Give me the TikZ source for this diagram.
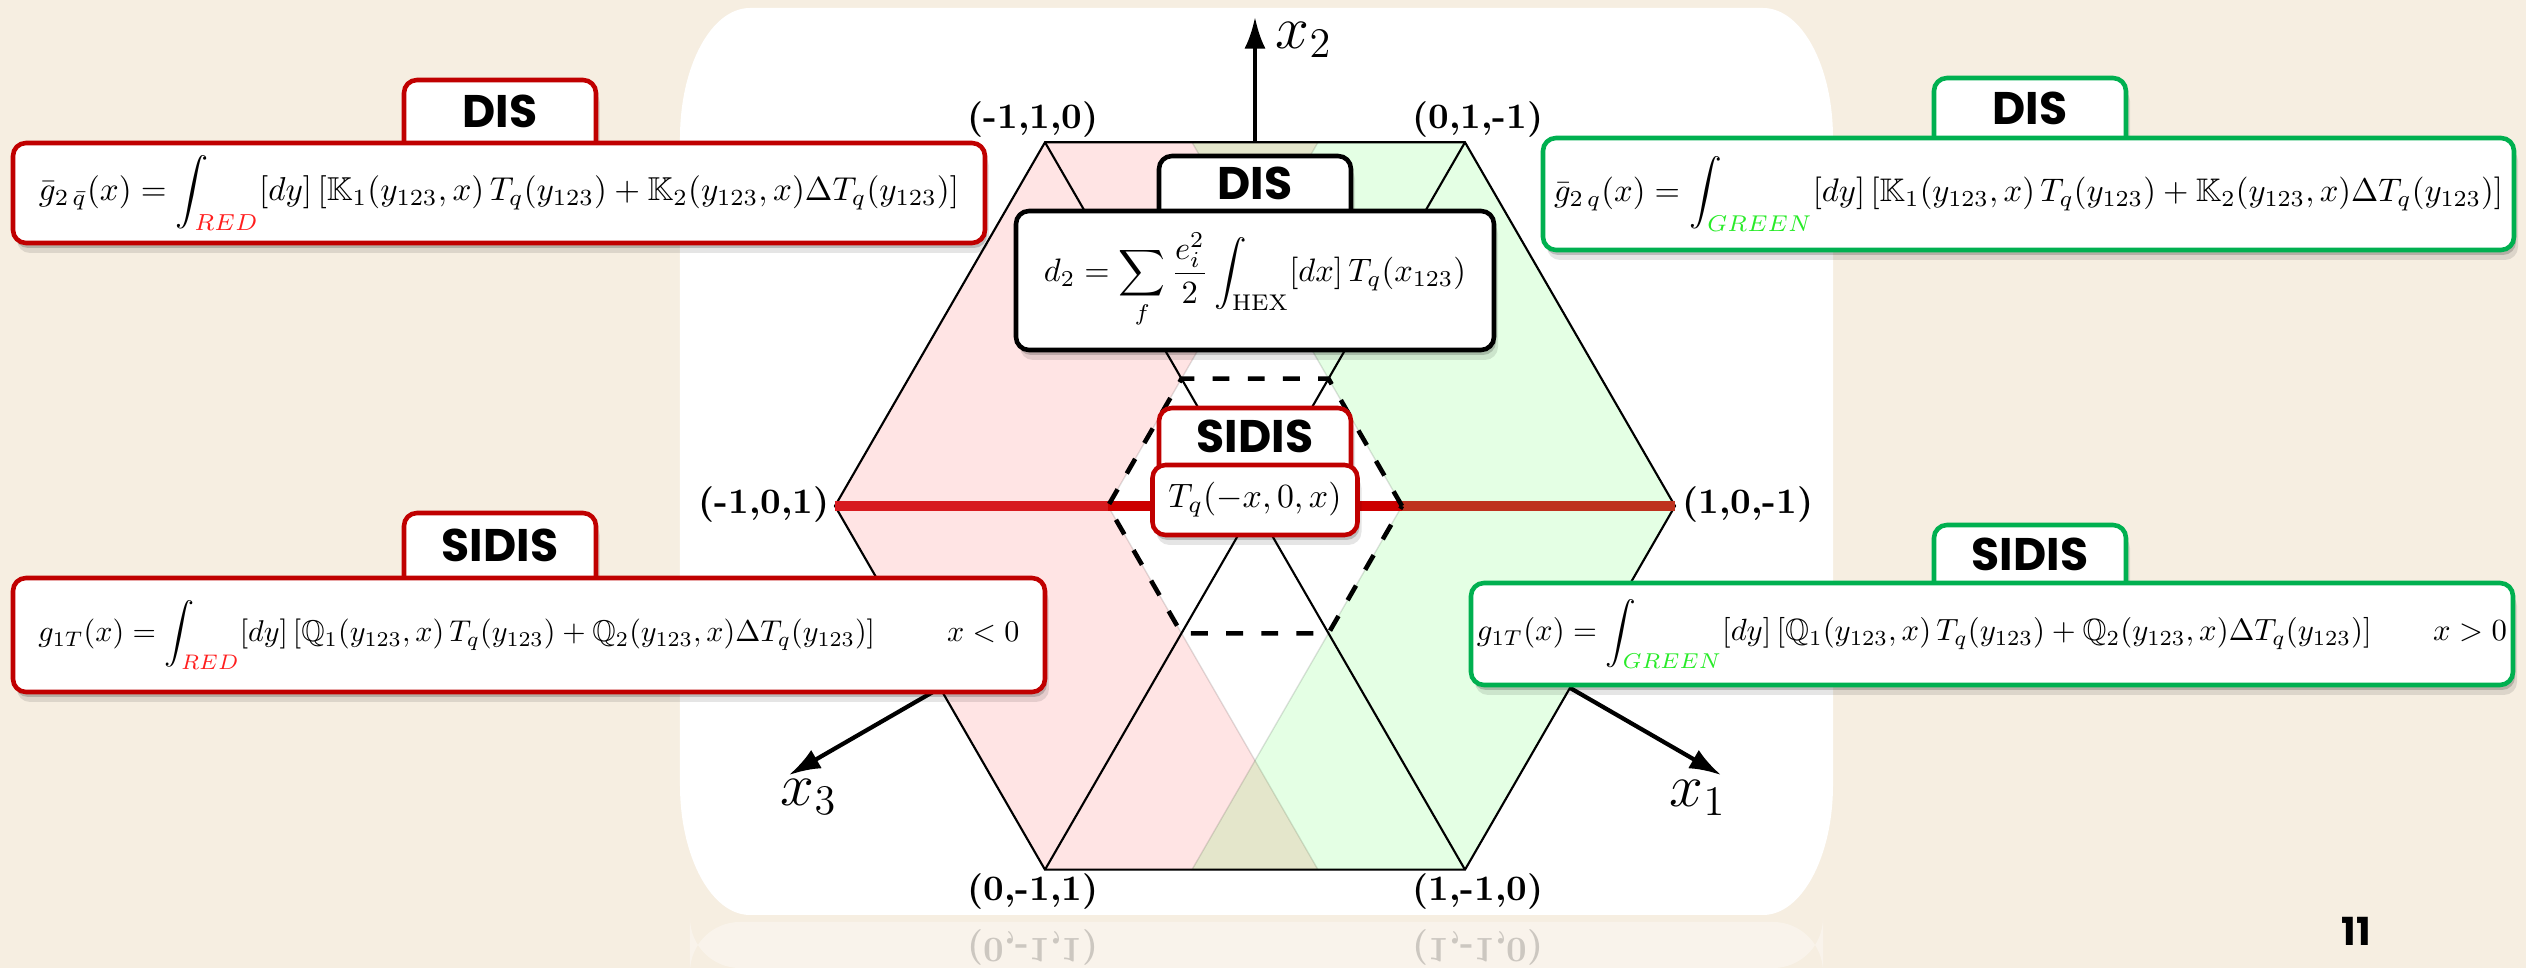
\documentclass[tikz,border=0pt]{standalone}
\usepackage{amssymb}
\usepackage{graphicx}
\usepackage{fontspec}
\newfontfamily\tabfont{Poppins}
\usetikzlibrary{shadows,arrows.meta}
\definecolor{bgbeige}{RGB}{246,238,225}
\definecolor{boxred}{RGB}{192,0,0}
\definecolor{boxgreen}{RGB}{0,176,80}
\definecolor{redtxt}{RGB}{255,30,30}
\definecolor{greentxt}{RGB}{40,235,40}
\definecolor{lineredA}{RGB}{215,26,31}
\definecolor{lineredB}{RGB}{204,0,0}
\definecolor{lineredC}{RGB}{190,50,30}
\tikzset{
  softshadow/.style={drop shadow={shadow xshift=0.02cm, shadow yshift=-0.05cm, opacity=0.18, fill=black},
                     drop shadow={shadow xshift=0.04cm, shadow yshift=-0.10cm, opacity=0.10, fill=black}},
  panel/.style={draw=#1, line width=1.3pt, rounded corners=0.13cm, fill=white, inner sep=0pt, softshadow},
  tabshape/.style={draw=#1, line width=1.3pt, rounded corners=0.13cm, fill=white, softshadow},
  tabtext/.style={inner sep=0pt, font=\tabfont\bfseries\fontsize{13}{13}\selectfont},
  vlabel/.style={font=\bfseries\fontsize{10.2}{12}\selectfont, inner sep=0pt},
  axislabel/.style={font=\fontsize{17.28}{20}\selectfont, inner sep=0pt},
  hexline/.style={line width=0.6pt, black},
  axisarrow/.style={line width=1.2pt, -{Latex[length=9pt,width=6pt]}},
  dashedhex/.style={line width=1.3pt, dash pattern=on 4.8pt off 5.2pt},
  redline/.style={line width=3.1pt},
  pinkband/.style={fill=red, fill opacity=0.106, draw=black, draw opacity=0.12, line width=0.4pt},
  greenband/.style={fill=green, fill opacity=0.106, draw=black, draw opacity=0.12, line width=0.4pt},
}
% #1 name, #2 x centre, #3 top, #4 top of the panel below, #5 colour, #6 text
\newcommand\mytab[6]{%
  \path[tabshape=#5] ({#2-0.96},{#4-0.1}) -- ({#2-0.96},#3) -- ({#2+0.96},#3) -- ({#2+0.96},{#4-0.1});
  \node[tabtext] (#1) at (#2,{(#3+#4)/2}) {#6};}
\begin{document}
\begin{tikzpicture}
% page background
\fill[bgbeige] (-12.55,-4.62) rectangle (12.71,5.06);
\useasboundingbox (-12.55,-4.62) rectangle (12.71,5.06);
% reflection
\fill[white, opacity=0.35, rounded corners=0.5cm] (-5.65,-4.62) -- (-5.65,-4.16) -- (5.68,-4.16) -- (5.68,-4.62) -- cycle;
% white panel
\fill[white] (-5.05,4.98) -- (5.08,4.98) arc[start angle=90, end angle=0, x radius=0.7, y radius=1.3]
  -- (5.78,-2.79) arc[start angle=0, end angle=-90, x radius=0.7, y radius=1.3]
  -- (-5.05,-4.09) arc[start angle=270, end angle=180, x radius=0.7, y radius=1.3]
  -- (-5.75,3.68) arc[start angle=180, end angle=90, x radius=0.7, y radius=1.3] -- cycle;
% hexagon vertices
\coordinate (vL) at (-4.2,0);
\coordinate (vR) at (4.2,0);
\coordinate (vTL) at (-2.1,3.637);
\coordinate (vTR) at (2.1,3.637);
\coordinate (vBL) at (-2.1,-3.637);
\coordinate (vBR) at (2.1,-3.637);
\coordinate (dL) at (-1.47,0);
\coordinate (dR) at (1.47,0);
% bands
\path[pinkband] (vTL) -- (0.63,3.637) -- (dL) -- (0.63,-3.637) -- (vBL) -- (vL) -- cycle;
\path[greenband] (vTR) -- (-0.63,3.637) -- (dR) -- (-0.63,-3.637) -- (vBR) -- (vR) -- cycle;
% hexagon and diagonals
\draw[hexline] (vL) -- (vTL) -- (vTR) -- (vR) -- (vBR) -- (vBL) -- cycle;
\draw[hexline] (vTL) -- (vBR);
\draw[hexline] (vTR) -- (vBL);
% red line
\draw[redline, lineredA] (vL) -- (dL);
\draw[redline, lineredB] (dL) -- (dR);
\draw[redline, lineredC] (dR) -- (vR);
% dashed hexagon
\draw[dashedhex] (dR) -- (0.735,1.273) -- (-0.735,1.273) -- (dL) -- (-0.735,-1.273) -- (0.735,-1.273) -- cycle;
% axes
\coordinate (a2s) at (0,3.637);
\coordinate (a2e) at (0,4.89);
\coordinate (a1s) at (3.15,-1.819);
\coordinate (a1e) at (4.66,-2.69);
\coordinate (a3s) at (-3.15,-1.819);
\coordinate (a3e) at (-4.66,-2.69);
\draw[axisarrow] (a2s) -- (a2e);
\draw[axisarrow] (a1s) -- (a1e);
\draw[axisarrow] (a3s) -- (a3e);
\node[axislabel] (lx2) at (0.49,4.66) {$x_2$};
\node[axislabel] (lx1) at (4.43,-2.92) {$x_1$};
\node[axislabel] (lx3) at (-4.46,-2.91) {$x_3$};
% vertex labels
\node[vlabel] (lTL) at (-2.22,3.86) {(-1,1,0)};
\node[vlabel] (lTR) at (2.23,3.86) {(0,1,-1)};
\node[vlabel, anchor=east] (lL) at (-4.25,0.01) {(-1,0,1)};
\node[vlabel, anchor=west] (lR) at (4.27,0.01) {(1,0,-1)};
\node[vlabel] (lBL) at (-2.22,-3.86) {(0,-1,1)};
\node[vlabel] (lBR) at (2.23,-3.86) {(1,-1,0)};
% mirrored reflections of bottom labels
\node[vlabel, yscale=-1, transform shape, opacity=0.18] (rBL) at (-2.22,-4.41) {(0,-1,1)};
\node[vlabel, yscale=-1, transform shape, opacity=0.18] (rBR) at (2.23,-4.41) {(1,-1,0)};
% left DIS
\mytab{tDL}{-7.55}{4.26}{3.63}{boxred}{DIS}
\node[panel=boxred, minimum width=9.72cm, minimum height=1.00cm] (bDL) at (-7.56,3.13)
  {\resizebox{9.2cm}{!}{$\displaystyle \bar g_{2\,\bar q}(x) = \int_{\textcolor{redtxt}{RED}}[dy]\,[\mathbb{K}_1(y_{123},x)\,T_q(y_{123})+\mathbb{K}_2(y_{123},x)\Delta T_q(y_{123})]$}};
% right DIS
\mytab{tDR}{7.75}{4.28}{3.68}{boxgreen}{DIS}
\node[panel=boxgreen, minimum width=9.71cm, minimum height=1.12cm] (bDR) at (7.735,3.12)
  {\resizebox{9.49cm}{!}{$\displaystyle \bar g_{2\,q}(x) = \int_{\textcolor{greentxt}{GREEN}}[dy]\,[\mathbb{K}_1(y_{123},x)\,T_q(y_{123})+\mathbb{K}_2(y_{123},x)\Delta T_q(y_{123})]$}};
% left SIDIS
\mytab{tSL}{-7.55}{-0.07}{-0.72}{boxred}{SIDIS}
\node[panel=boxred, minimum width=10.32cm, minimum height=1.14cm] (bSL) at (-7.26,-1.29)
  {\resizebox{9.81cm}{!}{$\displaystyle g_{1T}(x) = \int_{\textcolor{redtxt}{RED}}[dy]\,[\mathbb{Q}_1(y_{123},x)\,T_q(y_{123})+\mathbb{Q}_2(y_{123},x)\Delta T_q(y_{123})]\hspace{2.4em} x<0$}};
% right SIDIS
\mytab{tSR}{7.75}{-0.19}{-0.77}{boxgreen}{SIDIS}
\node[panel=boxgreen, minimum width=10.42cm, minimum height=1.02cm] (bSR) at (7.37,-1.28)
  {\resizebox{10.30cm}{!}{$\displaystyle g_{1T}(x) = \int_{\textcolor{greentxt}{GREEN}}[dy]\,[\mathbb{Q}_1(y_{123},x)\,T_q(y_{123})+\mathbb{Q}_2(y_{123},x)\Delta T_q(y_{123})]\qquad x>0$}};
% centre DIS
\mytab{tDC}{0}{3.50}{2.95}{black}{DIS}
\node[panel=black, minimum width=4.78cm, minimum height=1.39cm] (bDC) at (0,2.255)
  {\resizebox{4.22cm}{!}{$\displaystyle d_2=\sum_f \frac{e_i^2}{2}\int_{\mathrm{HEX}}[dx]\,T_q(x_{123})$}};
% centre SIDIS
\mytab{tSC}{0}{0.98}{0.41}{boxred}{SIDIS}
\node[panel=boxred, minimum width=2.05cm, minimum height=0.70cm] (bSC) at (0,0.06)
  {\resizebox{1.73cm}{!}{$T_q(-x,0,x)$}};
% page number
\node[font=\tabfont\bfseries\fontsize{11}{11}\selectfont, inner sep=0pt] (pg) at (11.01,-4.25) {11};
\end{tikzpicture}
\end{document}
